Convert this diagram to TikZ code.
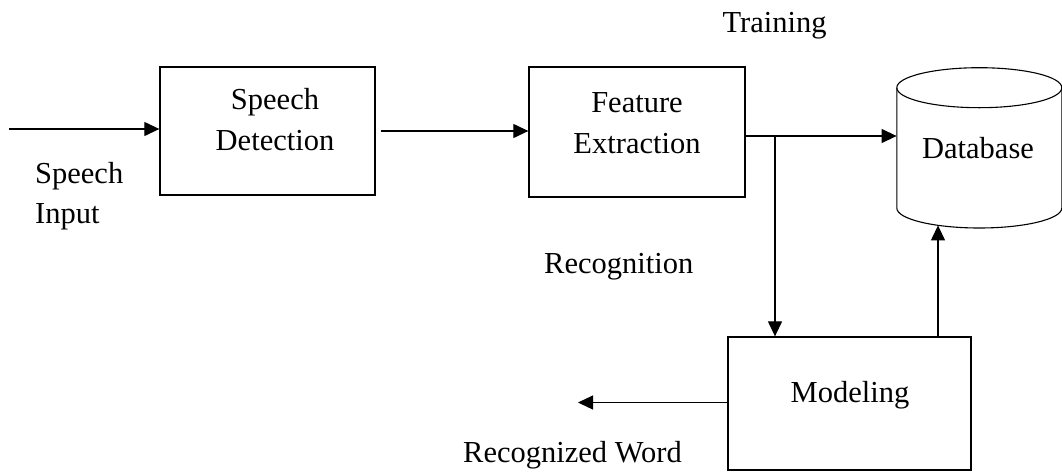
\documentclass[tikz,border=0pt]{standalone}
\usepackage{fontspec}
\setmainfont{Liberation Serif}
\usetikzlibrary{arrows.meta}
\begin{document}
\begin{tikzpicture}[x=1pt,y=-1pt,
  every node/.style={font=\fontsize{30.5}{40.5}\selectfont},
  blk/.style={draw, line width=1.3pt, rectangle, inner sep=0pt},
  txt/.style={align=center, inner sep=0pt},
  arr/.style={line width=1.2pt, -{Triangle[length=15pt,width=14pt]}},
  ln/.style={line width=1.2pt}]
\useasboundingbox (0,0) rectangle (1062,472);
% boxes
\node[blk, minimum width=215pt, minimum height=128pt] (sd) at (267.5,131) {};
\node[blk, minimum width=216pt, minimum height=130pt] (fe) at (637,132) {};
\node[blk, minimum width=243pt, minimum height=133pt] (mo) at (849.5,403.5) {};
% database cylinder
\node[minimum width=165pt, minimum height=160pt, inner sep=0pt] (db) at (979.3,148) {};
\draw[line width=1.1pt] (979.3,87.7) ellipse [x radius=82.5, y radius=20];
\draw[line width=1.1pt] (896.8,87.7) -- (896.8,208) arc[start angle=180, end angle=360, x radius=82.5, y radius=-20] -- (1061.8,87.7);
% texts
\node[txt, anchor=base] (t1) at (275,150) {Speech\\Detection};
\node[txt, anchor=base] (t2) at (637,153) {Feature\\Extraction};
\node[txt, anchor=base] (t3) at (978,158) {Database};
\node[txt, anchor=base] (t4) at (850,402) {Modeling};
\node[txt, anchor=base west] (t5) at (35,183) {Speech};
\node[txt, anchor=base west] (t6) at (35,223) {Input};
\node[txt, anchor=base] (t7) at (774.5,32) {Training};
\node[txt, anchor=base west] (t8) at (544,273) {Recognition};
\node[txt, anchor=base east] (t9) at (682,462) {Recognized Word};
% connectors
\coordinate (in) at (9,129);
\coordinate (out) at (578,402.5);
\coordinate (fy) at (0,136);
\coordinate (br) at (775,136);
\coordinate (up) at (938,0);
\draw[arr] (in) -- (sd.west |- in);
\draw[arr, shorten <=5pt] (sd.east) -- (fe.west |- sd.east);
\draw[arr] (fe.east |- fy) -- (db.west |- fy);
\draw[arr] (br) -- (br |- mo.north);
\draw[arr] (mo.north -| up) -- (938,225.4);
\draw[arr] (mo.west |- out) -- (out);
\end{tikzpicture}
\end{document}
